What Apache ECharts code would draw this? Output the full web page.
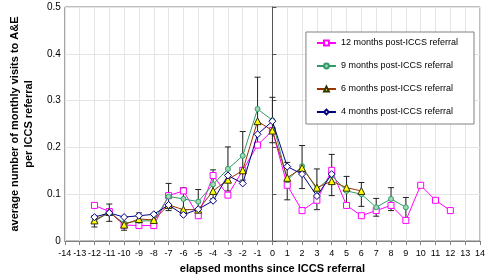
<!DOCTYPE html>
<html>
<head>
<meta charset="utf-8">
<script src="https://cdn.jsdelivr.net/npm/echarts@6/dist/echarts.min.js"></script>
<style>
  html, body { margin: 0; padding: 0; background: #fff; }
  #chart { width: 488px; height: 279px; }
</style>
</head>
<body>
<div id="chart"></div>
<script>
// months relative to referral
const months12 = [-12, -11, -10, -9, -8, -7, -6, -5, -4, -3, -2, -1, 0, 1, 2, 3, 4, 5, 6, 7, 8, 9, 10, 11, 12]
const visits12 = [0.076, 0.063, 0.034, 0.033, 0.033, 0.097, 0.107, 0.054, 0.140, 0.098, 0.151, 0.205, 0.236,
    0.119, 0.065, 0.087, 0.151, 0.076, 0.054, 0.065, 0.076, 0.044, 0.119, 0.087, 0.065]

const months9 = [-12, -11, -10, -9, -8, -7, -6, -5, -4, -3, -2, -1, 0, 1, 2, 3, 4, 5, 6, 7, 8, 9]
const visits9 = [0.042, 0.061, 0.038, 0.043, 0.043, 0.095, 0.090, 0.084, 0.121, 0.154, 0.182, 0.282, 0.258,
    0.130, 0.160, 0.110, 0.140, 0.107, 0.100, 0.072, 0.090, 0.072]
// error bars (9 months series)
const errLow9 = [0.030, 0.042, 0.023, 0.030, 0.028, 0.065, 0.066, 0.054, 0.090, 0.107, 0.130, 0.210, 0.210,
    0.088, 0.112, 0.067, 0.097, 0.075, 0.074, 0.053, 0.065, 0.046]
const errHigh9 = [0.054, 0.079, 0.052, 0.060, 0.058, 0.123, 0.114, 0.110, 0.152, 0.201, 0.234, 0.350, 0.307,
    0.168, 0.204, 0.154, 0.185, 0.138, 0.125, 0.091, 0.114, 0.093]

const months6 = [-12, -11, -10, -9, -8, -7, -6, -5, -4, -3, -2, -1, 0, 1, 2, 3, 4, 5, 6]
const visits6 = [0.044, 0.062, 0.035, 0.047, 0.045, 0.077, 0.067, 0.067, 0.107, 0.131, 0.151, 0.256, 0.236,
    0.135, 0.156, 0.114, 0.128, 0.114, 0.107]

const months4 = [-12, -11, -10, -9, -8, -7, -6, -5, -4, -3, -2, -1, 0, 1, 2, 3, 4]
const visits4 = [0.051, 0.060, 0.051, 0.054, 0.057, 0.077, 0.056, 0.068, 0.086, 0.140, 0.123, 0.228, 0.256,
    0.159, 0.143, 0.096, 0.143]

const seriesNames = ['12 months post-ICCS referral', '9 months post-ICCS referral',
    '6 months post-ICCS referral', '4 months post-ICCS referral']

const pair = (xs, ys) => xs.map((x, i) => [x, ys[i]])

const chart = echarts.init(document.getElementById('chart'))
const font = 'Liberation Sans, Arial, sans-serif'

const option = {
    animation: false,
    textStyle: { fontFamily: font },
    grid: {
        left: 33, right: 5, top: 7, bottom: 34,
        show: true,
        borderColor: '#808080',
        borderWidth: 1
    },
    legend: {
        orient: 'vertical',
        right: 14,
        top: 32,
        data: seriesNames,
        backgroundColor: '#fff',
        borderColor: '#808080',
        borderWidth: 1,
        borderRadius: 0,
        padding: [6, 16, 7, 10],
        itemGap: 13,
        itemWidth: 19,
        itemHeight: 6,
        textStyle: { fontFamily: font, fontSize: 9, lineHeight: 10, color: '#000' }
    },
    xAxis: {
        type: 'value',
        min: -14,
        max: 14,
        interval: 1,
        name: 'elapsed months since ICCS referral',
        nameLocation: 'middle',
        nameGap: 22,
        nameTextStyle: { fontFamily: font, fontSize: 11, fontWeight: 'bold', color: '#000' },
        axisLine: { onZero: false, lineStyle: { color: '#808080' } },
        axisTick: { lineStyle: { color: '#808080' }, length: 4 },
        axisLabel: { fontSize: 9, color: '#000', margin: 8 },
        splitLine: { lineStyle: { color: '#e4e4e4' } }
    },
    yAxis: {
        type: 'value',
        min: 0,
        max: 0.5,
        interval: 0.1,
        name: 'average number of monthly visits to A&E\nper ICCS referral',
        nameLocation: 'middle',
        nameGap: 0,
        nameTextStyle: { fontFamily: font, fontSize: 11, fontWeight: 'bold', color: '#000', lineHeight: 14 },
        axisLine: { onZero: true, lineStyle: { color: '#555' } },
        axisTick: { inside: true, length: 4, lineStyle: { color: '#555' } },
        axisLabel: { fontSize: 10, color: '#000', margin: 4 },
        splitLine: { lineStyle: { color: '#e4e4e4' } }
    },
    series: [
        {
            name: 'errors',
            type: 'custom',
            data: months9.map((m, i) => [m, errLow9[i], errHigh9[i]]),
            renderItem: (params, api) => {
                const lo = api.coord([api.value(0), api.value(1)])
                const hi = api.coord([api.value(0), api.value(2)])
                const w = 3
                const st = { stroke: '#222', lineWidth: 1 }
                return {
                    type: 'group',
                    children: [
                        { type: 'line', shape: { x1: lo[0], y1: lo[1], x2: hi[0], y2: hi[1] }, style: st },
                        { type: 'line', shape: { x1: lo[0] - w, y1: lo[1], x2: lo[0] + w, y2: lo[1] }, style: st },
                        { type: 'line', shape: { x1: hi[0] - w, y1: hi[1], x2: hi[0] + w, y2: hi[1] }, style: st }
                    ]
                }
            },
            z: 1
        },
        {
            name: seriesNames[0],
            type: 'line',
            data: pair(months12, visits12),
            symbol: 'rect',
            symbolSize: 6,
            lineStyle: { color: '#ff00ff', width: 1 },
            itemStyle: { color: '#fff', borderColor: '#ff00ff', borderWidth: 1 },
            z: 2
        },
        {
            name: seriesNames[1],
            type: 'line',
            data: pair(months9, visits9),
            symbol: 'circle',
            symbolSize: 5,
            lineStyle: { color: '#339966', width: 1 },
            itemStyle: { color: '#9fd8b8', borderColor: '#339966', borderWidth: 1 },
            z: 3
        },
        {
            name: seriesNames[2],
            type: 'line',
            data: pair(months6, visits6),
            symbol: 'triangle',
            symbolSize: 7,
            lineStyle: { color: '#993300', width: 1 },
            itemStyle: { color: '#ffff00', borderColor: '#333300', borderWidth: 1 },
            z: 4
        },
        {
            name: seriesNames[3],
            type: 'line',
            data: pair(months4, visits4),
            symbol: 'diamond',
            symbolSize: 7,
            lineStyle: { color: '#000080', width: 1 },
            itemStyle: { color: '#fff', borderColor: '#000080', borderWidth: 1 },
            z: 5
        }
    ]
}

chart.setOption(option)
window.addEventListener('resize', () => chart.resize())
</script>
</body>
</html>
